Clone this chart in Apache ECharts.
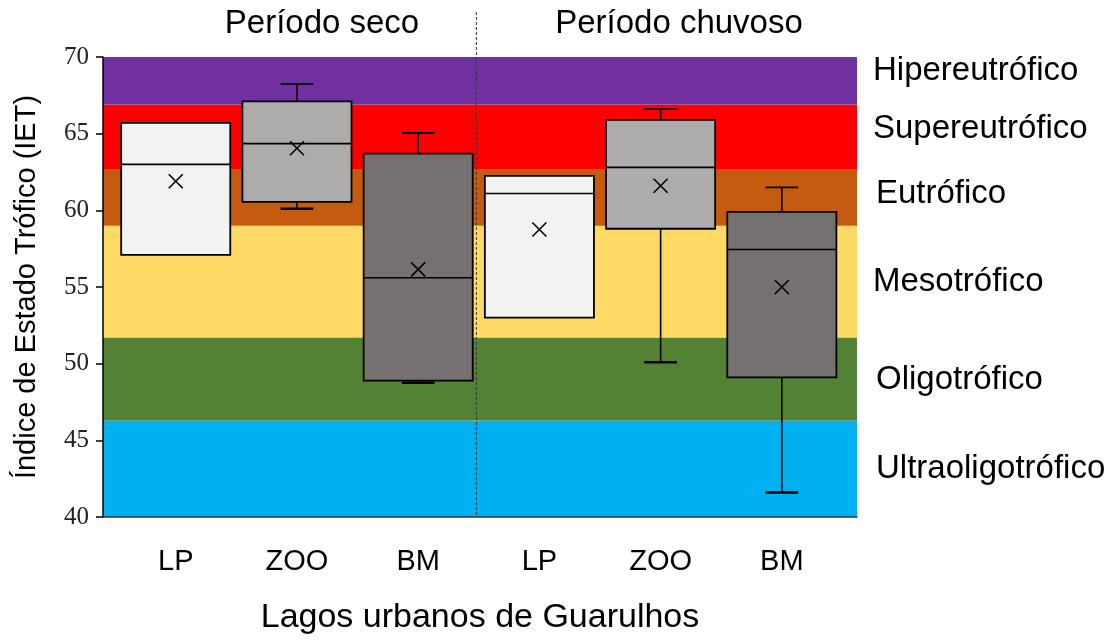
<!DOCTYPE html>
<html>
<head>
<meta charset="utf-8">
<script src="https://cdn.jsdelivr.net/npm/echarts@6/dist/echarts.min.js"></script>
<style>html,body{margin:0;padding:0;background:#fff}#c{width:1116px;height:640px}</style>
</head>
<body>
<div id="c"></div>
<script>
const categories = ['LP', 'ZOO', 'BM', 'LP', 'ZOO', 'BM'];
const seasons = ['Período seco', 'Período chuvoso'];
const minVals    = [57.1, 60.1, 48.75, 53.0, 50.1, 41.6];
const q1Vals     = [57.1, 60.55, 48.9, 53.0, 58.8, 49.1];
const medianVals = [63.0, 64.35, 55.6, 61.1, 62.8, 57.45];
const q3Vals     = [65.7, 67.1, 63.7, 62.25, 65.9, 59.9];
const maxVals    = [65.7, 68.25, 65.05, 62.25, 66.6, 61.5];
const meanVals   = [61.9, 64.05, 56.15, 58.75, 61.6, 55.0];
const bandNames  = ['Ultraoligotrófico', 'Oligotrófico', 'Mesotrófico', 'Eutrófico', 'Supereutrófico', 'Hipereutrófico'];
const bandEdges  = [40, 46.3, 51.7, 59.0, 62.7, 66.9, 70];
const yTicks     = [40, 45, 50, 55, 60, 65, 70];

const bandColors = ['#00B0F0', '#548235', '#FFD966', '#C55A11', '#FF0000', '#7030A0'];
const boxColors = ['#F2F2F2', '#AEABAB', '#767171'];
const SANS = '"Liberation Sans", Arial, sans-serif';
const SERIF = '"Liberation Serif", "Times New Roman", serif';

const boxData = categories.map((c, i) => [i, minVals[i], q1Vals[i], medianVals[i], q3Vals[i], maxVals[i], meanVals[i]]);
const bandData = bandNames.map((n, i) => [bandEdges[i], bandEdges[i + 1], i]);

const chart = echarts.init(document.getElementById('c'), null, {renderer: 'canvas'});

function renderBand(params, api) {
  const cs = params.coordSys;
  const yLow = api.coord([0, api.value(0)])[1];
  const yHigh = api.coord([0, api.value(1)])[1];
  return {
    type: 'rect',
    shape: {x: cs.x, y: yHigh, width: cs.width, height: yLow - yHigh},
    style: {fill: bandColors[api.value(2)]}
  };
}

function renderBox(params, api) {
  const i = api.value(0);
  const cx = api.coord([i, 0])[0];
  const y = k => api.coord([i, api.value(k)])[1];
  const yMin = y(1), yQ1 = y(2), yMed = y(3), yQ3 = y(4), yMax = y(5), yMean = y(6);
  const halfW = api.size([0.9, 0])[0] / 2;
  const capW = api.size([0.27, 0])[0] / 2;
  const ls = {stroke: '#000', lineWidth: 1.6};
  const children = [];
  if (api.value(5) > api.value(4)) {
    children.push({type: 'line', shape: {x1: cx, y1: yQ3, x2: cx, y2: yMax}, style: ls});
    children.push({type: 'line', shape: {x1: cx - capW, y1: yMax, x2: cx + capW, y2: yMax}, style: ls});
  }
  if (api.value(1) < api.value(2)) {
    children.push({type: 'line', shape: {x1: cx, y1: yQ1, x2: cx, y2: yMin}, style: ls});
    children.push({type: 'line', shape: {x1: cx - capW, y1: yMin, x2: cx + capW, y2: yMin}, style: {stroke: '#000', lineWidth: 2.5}});
  }
  children.push({type: 'rect', shape: {x: cx - halfW, y: yQ3, width: 2 * halfW, height: yQ1 - yQ3},
    style: {fill: boxColors[i % 3], stroke: '#000', lineWidth: 1.8}});
  children.push({type: 'line', shape: {x1: cx - halfW, y1: yMed, x2: cx + halfW, y2: yMed}, style: ls});
  const m = 7;
  children.push({type: 'line', shape: {x1: cx - m, y1: yMean - m, x2: cx + m, y2: yMean + m}, style: ls});
  children.push({type: 'line', shape: {x1: cx - m, y1: yMean + m, x2: cx + m, y2: yMean - m}, style: ls});
  return {type: 'group', children};
}

const option = {
  animation: false,
  backgroundColor: '#fff',
  grid: {left: 103, right: 259, top: 57, bottom: 121, containLabel: false},
  xAxis: {
    type: 'value', min: -0.6, max: 5.62, z: 10,
    splitLine: {show: false},
    axisLine: {show: true, onZero: false, lineStyle: {color: '#2b3340', width: 1.5}},
    axisTick: {show: false},
    axisLabel: {
      customValues: categories.map((c, i) => i),
      formatter: v => categories[Math.round(v)],
      fontFamily: SANS, fontSize: 29, color: '#000', margin: 30, lineHeight: 29
    },
    name: 'Lagos urbanos de Guarulhos', nameLocation: 'middle', nameGap: 84,
    nameTextStyle: {fontFamily: SANS, fontSize: 34, color: '#000'}
  },
  yAxis: {
    type: 'value', min: 40, max: 70, interval: 5, z: 10,
    splitLine: {show: false},
    axisLine: {show: true, onZero: false, lineStyle: {color: '#000', width: 1.5}},
    axisTick: {show: true, inside: false, length: 7, lineStyle: {color: '#000', width: 1.5}},
    axisLabel: {fontFamily: SERIF, fontSize: 25, color: '#222', margin: 14},
    name: 'Índice de Estado Trófico (IET)', nameLocation: 'middle', nameGap: 62, nameRotate: 90,
    nameTextStyle: {fontFamily: SANS, fontSize: 29, color: '#000'}
  },
  series: [
    {type: 'custom', name: 'bands', renderItem: renderBand, data: bandData, encode: {y: [0, 1]}, silent: true, z: 1, clip: true},
    {type: 'custom', name: 'IET', renderItem: renderBox, data: boxData, encode: {x: 0, y: [1, 5]}, z: 3}
  ]
};
chart.setOption(option);

const divX = chart.convertToPixel({xAxisIndex: 0}, 2.48);
const bottomY = chart.convertToPixel({yAxisIndex: 0}, 40);

const labelYs = [469, 380, 282, 194, 129, 71];
chart.setOption({
  graphic: [
    {type: 'line', z: 10, shape: {x1: divX, y1: 12, x2: divX, y2: bottomY},
      style: {stroke: '#333', lineWidth: 1, lineDash: [3, 2]}},
    {type: 'text', x: 322, y: 24, style: {text: seasons[0], font: '33px ' + SANS, fill: '#000', align: 'center', verticalAlign: 'middle'}},
    {type: 'text', x: 679, y: 24, style: {text: seasons[1], font: '33px ' + SANS, fill: '#000', align: 'center', verticalAlign: 'middle'}}
  ].concat(bandNames.map((n, i) => ({
    type: 'text', x: (i === 0 || i === 1 || i === 3) ? 876 : 873, y: labelYs[i],
    style: {text: n, font: '33px ' + SANS, fill: '#000', align: 'left', verticalAlign: 'middle'}
  })))
});
</script>
</body>
</html>
